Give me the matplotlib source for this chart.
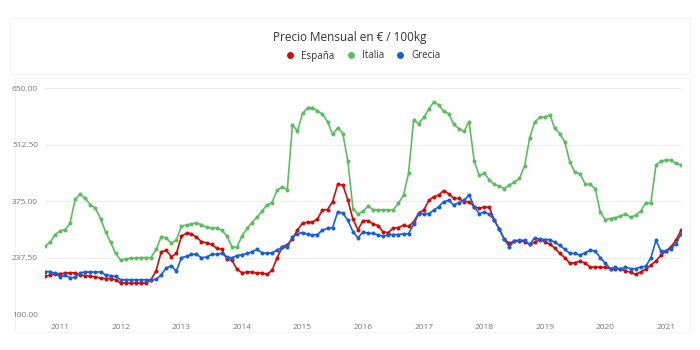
import pandas as pd
import matplotlib
matplotlib.use('Agg')
import matplotlib.pyplot as plt
import matplotlib.dates as mdates
from matplotlib.lines import Line2D
from matplotlib.patches import Rectangle

plt.rcParams['font.family'] = ['Open Sans', 'DejaVu Sans']

# monthly prices, Oct 2010 - Apr 2021
fechas = pd.date_range('2010-10-01', periods=127, freq='MS')

espana = [193, 195, 199, 199, 200, 201, 201, 196, 194, 193,
          191, 188, 187, 187, 184, 176, 176, 176, 176, 176,
          176, 184, 206, 252, 256, 240, 248, 290, 298, 296,
          288, 277, 274, 270, 261, 258, 235, 232, 210, 201,
          203, 203, 200, 201, 197, 207, 238, 264, 269, 284,
          305, 322, 324, 324, 332, 354, 355, 374, 416, 415,
          378, 331, 306, 328, 328, 320, 316, 300, 299, 310,
          311, 317, 314, 325, 346, 354, 377, 386, 390, 401,
          393, 382, 382, 374, 374, 362, 358, 361, 360, 330,
          308, 283, 273, 278, 278, 277, 270, 275, 282, 277,
          270, 262, 248, 238, 224, 226, 229, 225, 215, 215,
          215, 214, 211, 211, 210, 206, 202, 197, 203, 210,
          219, 230, 244, 254, 265, 280, 304]

italia = [266, 275, 294, 303, 306, 322, 380, 392, 382, 367,
          358, 333, 301, 275, 248, 232, 235, 237, 237, 238,
          238, 238, 258, 289, 286, 273, 281, 315, 317, 320,
          322, 318, 312, 310, 310, 304, 291, 265, 263, 291,
          309, 323, 336, 351, 366, 372, 402, 410, 403, 561,
          546, 589, 603, 603, 595, 587, 569, 538, 554, 540,
          473, 357, 344, 351, 363, 355, 354, 354, 354, 354,
          370, 390, 443, 573, 564, 579, 600, 616, 610, 594,
          588, 562, 552, 545, 569, 473, 438, 443, 427, 416,
          412, 406, 414, 422, 431, 461, 528, 568, 579, 580,
          585, 553, 540, 520, 470, 446, 442, 417, 416, 406,
          349, 330, 333, 335, 339, 345, 336, 341, 351, 372,
          370, 463, 473, 475, 475, 467, 464]

grecia = [204, 204, 200, 191, 195, 189, 190, 201, 203, 203,
          203, 203, 196, 194, 192, 184, 184, 184, 184, 184,
          184, 184, 185, 196, 213, 218, 205, 238, 241, 246,
          246, 238, 239, 246, 246, 248, 240, 237, 243, 245,
          248, 252, 258, 250, 248, 250, 256, 264, 263, 288,
          296, 299, 295, 293, 294, 305, 309, 311, 349, 346,
          329, 301, 286, 301, 297, 297, 293, 290, 294, 294,
          294, 296, 296, 319, 345, 345, 345, 353, 362, 374,
          377, 366, 372, 377, 391, 362, 345, 349, 343, 330,
          307, 283, 264, 279, 280, 280, 270, 286, 283, 282,
          282, 275, 268, 258, 248, 248, 244, 250, 256, 254,
          238, 224, 211, 214, 210, 215, 211, 211, 215, 217,
          237, 280, 254, 254, 260, 272, 295]

series = [('España', espana, '#d10a0a'),
          ('Italia', italia, '#5cbd5f'),
          ('Grecia', grecia, '#1560d8')]

fig = plt.figure(figsize=(7, 3.5), dpi=100)

# card backgrounds
fig.patches.append(Rectangle((10 / 700, 1 - 74 / 350), 680 / 700, 56 / 350,
                             transform=fig.transFigure, facecolor='white',
                             edgecolor='#f4f4f4', lw=0.8, zorder=-5))
fig.patches.append(Rectangle((15 / 700, 1 - 332 / 350), 675 / 700, 254 / 350,
                             transform=fig.transFigure, facecolor='white',
                             edgecolor='#f4f4f4', lw=0.8, zorder=-5))

ax = fig.add_axes([45 / 700, 1 - 314.3 / 350, 636 / 700, 226 / 350])
ax.set_facecolor('none')
ax.set_zorder(2)

for nombre, valores, color in series:
    ax.plot(fechas, valores, color=color, lw=1.2, marker='o', ms=2.9,
            mew=0, label=nombre)

ax.set_xlim(fechas[0], fechas[-1])
ax.set_ylim(100, 650)
ax.set_yticks([100, 237.5, 375, 512.5, 650])
ax.yaxis.set_major_formatter(plt.FuncFormatter(lambda v, p: f'{v:.2f}'))
ax.xaxis.set_major_locator(mdates.YearLocator())
ax.xaxis.set_major_formatter(mdates.DateFormatter('%Y'))
ax.grid(axis='y', color='#ececec', lw=0.8)
ax.set_axisbelow(True)
ax.tick_params(length=0, labelsize=6, colors='#777777')
ax.tick_params(axis='x', pad=7)
ax.tick_params(axis='y', pad=5)
for s in ax.spines.values():
    s.set_visible(False)

fig.text(0.5, 1 - 38 / 350, 'Precio Mensual en € / 100kg', ha='center',
         va='center', fontsize=8.5, color='#333333')
handles = [Line2D([], [], ls='none', marker='o', ms=5, mew=0, color=c)
           for _, _, c in series]
fig.legend(handles, [n for n, _, _ in series], loc='center',
           bbox_to_anchor=(0.515, 1 - 56 / 350), ncol=3, frameon=False,
           fontsize=7, handletextpad=0.1, columnspacing=0.7,
           labelcolor='#333333')

fig.savefig('out.png', dpi=100)
